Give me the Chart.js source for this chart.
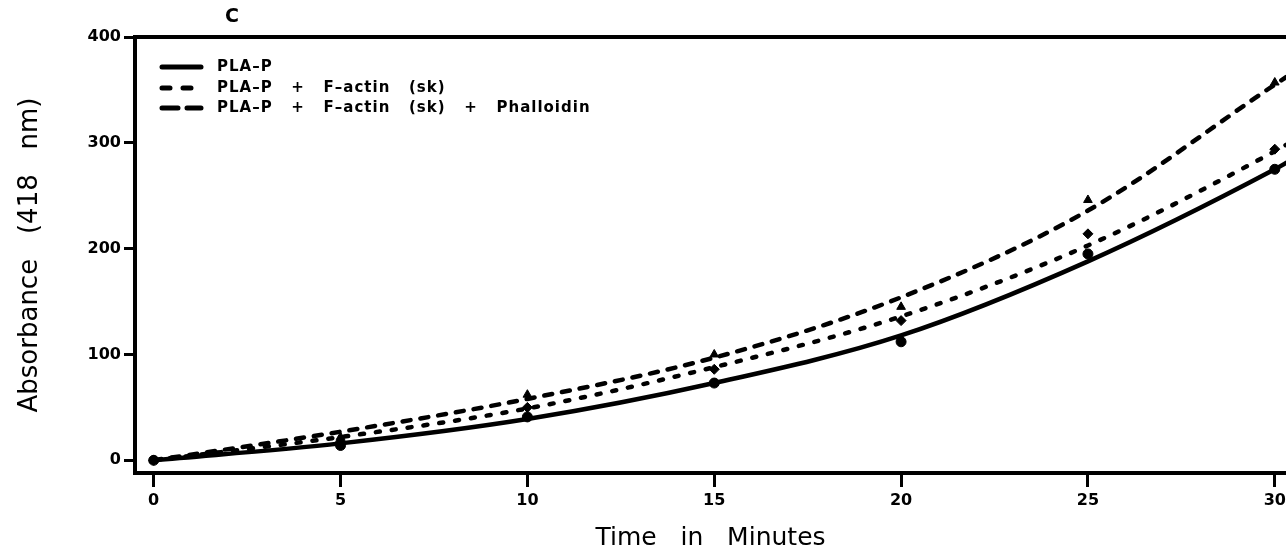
<!DOCTYPE html>
<html>
<head>
<meta charset="utf-8">
<script src="https://cdn.jsdelivr.net/npm/chart.js@4.4.0/dist/chart.umd.min.js"></script>
<style>
html,body{margin:0;padding:0;background:#fff;}
#wrap{width:1286px;height:558px;position:relative;}
</style>
</head>
<body>
<div id="wrap"><canvas id="c" width="1286" height="558"></canvas></div>
<script>
// ---- data ----
const times = [0, 5, 10, 15, 20, 25, 30];
const curveTimes = [0, 5, 10, 15, 20, 25, 30, 30.3];
const xTicks = [0, 5, 10, 15, 20, 25, 30];
const yTicks = [0, 100, 200, 300, 400];

const seriesNames = ['PLA\u2013P', 'PLA\u2013P   +   F\u2013actin   (sk)', 'PLA\u2013P   +   F\u2013actin   (sk)   +   Phalloidin'];

// measured points
const plaPPoints = [0, 14, 41, 73, 112, 195, 275];
const factinPoints = [0, 18, 50, 86, 132, 214, 294];
const phallPoints = [0, 22, 62, 100, 145, 246, 357];

// fitted curves as drawn
const plaPCurve = [0, 16, 39, 73, 118, 188, 275, 281];
const factinCurve = [0, 22, 49, 88, 136, 203, 292, 298];
const phallCurve = [0, 27, 58, 97, 154, 236, 355, 362];

const toXY = (xs, ys) => xs.map((x, i) => ({x: x, y: ys[i]}));

const lineStyles = [[], [4, 12], [8, 10]];

const legendPlugin = {
  id: 'inlineLegend',
  afterDraw(chart) {
    const ctx = chart.ctx;
    ctx.save();
    // panel letter
    ctx.fillStyle = '#000';
    ctx.font = 'bold 19px "DejaVu Sans"';
    ctx.textAlign = 'center';
    ctx.textBaseline = 'alphabetic';
    ctx.fillText('C', 232, 22);
    // legend
    const rows = [67, 88, 108];
    ctx.font = 'bold 15px "DejaVu Sans"';
    try { ctx.letterSpacing = '1px'; } catch (e) {}
    ctx.textAlign = 'left';
    ctx.textBaseline = 'middle';
    rows.forEach((y, i) => {
      ctx.strokeStyle = '#000';
      ctx.lineWidth = 5;
      ctx.lineCap = 'round';
      ctx.setLineDash(i === 0 ? [] : (i === 1 ? [8, 13] : [16, 9]));
      ctx.beginPath();
      ctx.moveTo(162, y);
      ctx.lineTo(201, y);
      ctx.stroke();
      ctx.setLineDash([]);
      ctx.fillText(seriesNames[i], 217, y);
    });
    ctx.restore();
  }
};

const curveDs = (data, dash) => ({
  type: 'line',
  data: data,
  borderColor: '#000',
  borderWidth: 4.5,
  borderDash: dash,
  borderCapStyle: 'round',
  pointRadius: 0,
  fill: false,
  cubicInterpolationMode: 'monotone'
});
const pointDs = (data, style, r) => ({
  type: 'scatter',
  data: data,
  showLine: false,
  pointStyle: style,
  pointRadius: r,
  pointBackgroundColor: '#000',
  pointBorderColor: '#000',
  pointBorderWidth: 1
});

new Chart(document.getElementById('c'), {
  type: 'line',
  data: {
    datasets: [
      curveDs(toXY(curveTimes, plaPCurve), lineStyles[0]),
      curveDs(toXY(curveTimes, factinCurve), lineStyles[1]),
      curveDs(toXY(curveTimes, phallCurve), lineStyles[2]),
      pointDs(toXY(times, plaPPoints), 'circle', 5),
      pointDs(toXY(times, factinPoints), 'rectRot', 5),
      pointDs(toXY(times, phallPoints), 'triangle', 5)
    ]
  },
  options: {
    responsive: false,
    animation: false,
    layout: {autoPadding: false, padding: {top: 37, right: 0, left: 0, bottom: 0}},
    plugins: {legend: {display: false}, tooltip: {enabled: false}, title: {display: false}},
    scales: {
      x: {
        type: 'linear',
        position: 'bottom',
        min: -0.5,
        max: 30.3,
        afterBuildTicks: s => { s.ticks = xTicks.map(v => ({value: v})); },
        afterFit: s => { s.height = 85; s.paddingRight = 0; s.paddingLeft = 0; },
        grid: {display: true, drawOnChartArea: false, drawTicks: true, tickLength: 14, tickWidth: 3, tickColor: '#000'},
        border: {display: true, color: '#000', width: 4},
        ticks: {color: '#000', font: {family: 'DejaVu Sans', size: 16, weight: 'bold'}, padding: 4, maxRotation: 0, autoSkip: false},
        title: {display: true, text: 'Time   in   Minutes', color: '#000', font: {family: 'DejaVu Sans', size: 25}, padding: {top: 0, bottom: 5}}
      },
      x2: {
        type: 'linear',
        position: 'top',
        min: -0.5,
        max: 30.3,
        afterFit: s => { s.height = 0; s.paddingRight = 0; s.paddingLeft = 0; },
        grid: {display: false, drawOnChartArea: false, drawTicks: false},
        border: {display: true, color: '#000', width: 4},
        ticks: {display: false}
      },
      y: {
        type: 'linear',
        min: -12,
        max: 400,
        afterBuildTicks: s => { s.ticks = yTicks.map(v => ({value: v})); },
        afterFit: s => { s.width = 135; s.paddingTop = 0; s.paddingBottom = 0; },
        grid: {display: true, drawOnChartArea: false, drawTicks: true, tickLength: 11, tickWidth: 3, tickColor: '#000'},
        border: {display: true, color: '#000', width: 4},
        ticks: {color: '#000', font: {family: 'DejaVu Sans', size: 16, weight: 'bold'}, padding: 3},
        title: {display: true, text: 'Absorbance   (418   nm)', color: '#000', font: {family: 'DejaVu Sans', size: 26}, padding: {top: 15, bottom: 0}}
      }
    }
  },
  plugins: [legendPlugin]
});
</script>
</body>
</html>
